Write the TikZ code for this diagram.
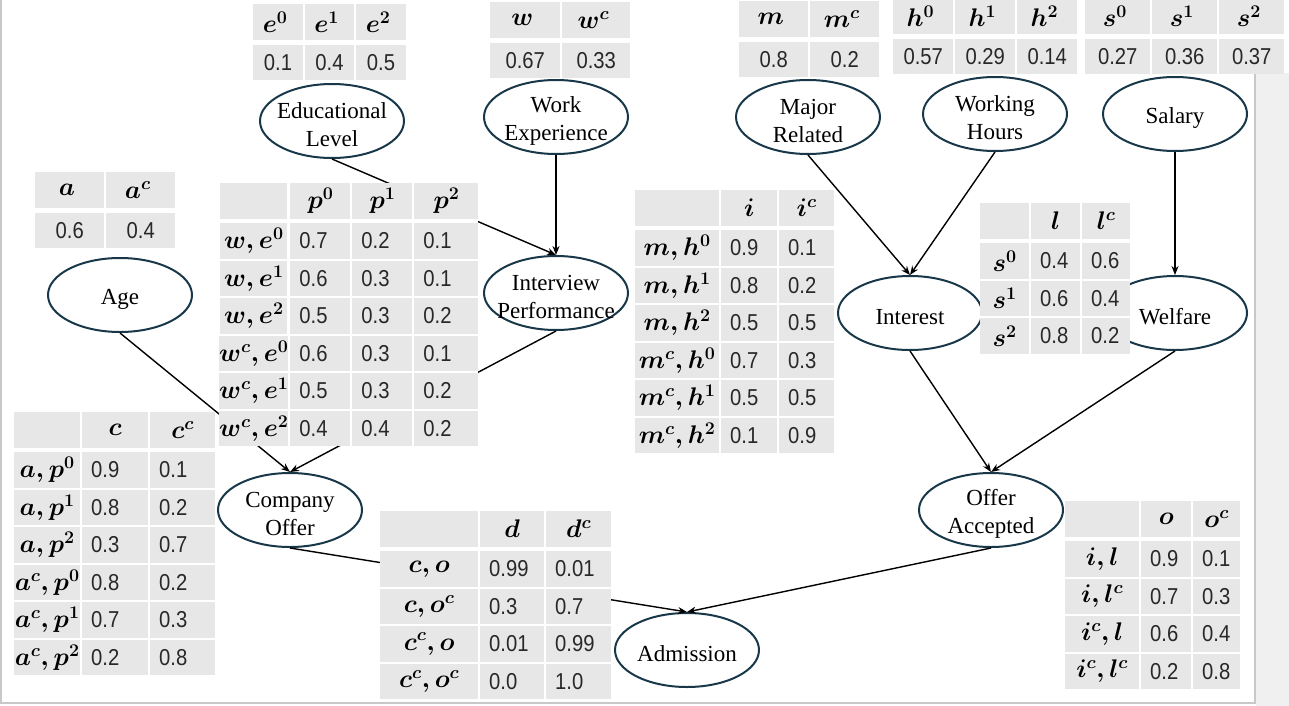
\RequirePackage{fix-cm}
\documentclass[tikz,border=0pt]{standalone}
\usepackage{amsmath}
\usepackage{fontspec}
\setmainfont{Liberation Serif}
\newfontfamily\numfont{Liberation Sans}[FakeStretch=0.88]
\usetikzlibrary{shapes.geometric,positioning,matrix,arrows.meta}

\definecolor{cellgray}{RGB}{231,231,231}
\definecolor{nodeblue}{RGB}{24,56,74}
\definecolor{framegray}{RGB}{200,200,200}
\definecolor{sidegray}{RGB}{240,240,240}
\definecolor{numgray}{RGB}{40,40,40}

\newcommand{\bv}[1]{{\fontsize{25.5}{27}\selectfont$\boldsymbol{#1}$}}

\tikzset{
  var/.style={ellipse, draw=nodeblue, line width=2pt, fill=white,
    minimum width=144pt, minimum height=74pt, inner sep=0pt,
    label={[align=center, yshift=-4pt, font=\fontsize{23}{28}\selectfont]center:#1}},
  cell/.style={fill=cellgray, inner xsep=9pt, inner ysep=0pt, minimum height=35.5pt,
    anchor=center, text=numgray, font=\numfont\fontsize{23}{27}\selectfont},
  cpt/.style={matrix of nodes, nodes in empty cells, nodes={cell}, column sep=2pt,
    row sep=2pt, inner sep=0pt, fill=white, anchor=north west,
    row 1/.style={nodes={align=center, text=black}}},
  vals/.style={nodes={text width=#1, align=left}},
  lbl/.style={nodes={minimum width=#1, inner xsep=0pt, text=black}},
}

\begin{document}
\begin{tikzpicture}[x=1pt, y=-1pt, on grid, >={Stealth[length=9pt, width=7pt]}]
   \useasboundingbox (0,0) rectangle (1289,706);
   \fill[sidegray] (1256,73) rectangle (1289,706);
   \draw[framegray, line width=1.5pt] (1,0) -- (1,703) -- (1255,703) -- (1255,73);

   % variables
   \node[var={Educational\\Level}] (el) at (332,121) {};
   \node[var={Work\\Experience}] (we) at (556,117) {};
   \node[var=Age] (age) at (120,295) {};
   \node[var={Interview\\Performance}] (ip) [below=176pt of we] {};
   \node[var={Major\\Related}] (mr) at (808,117) {};
   \node[var={Working\\Hours}] (wh) at (995,114) {};
   \node[var=Salary] (sal) at (1175,114) {};
   \node[var=Welfare] (wel) [below=199pt of sal] {};
   \node[var=Interest] (int) [left=265pt of wel] {};
   \node[var={Offer\\Accepted}] (oa) at (991,510) {};
   \node[var={Company\\Offer}] (co) [left=701pt of oa] {};
   \node[var=Admission] (adm) at (687,650) {};

   \path[->, line width=1.4pt]
    (el.south) edge (ip.north)
    (we.south) edge (ip.north)
    (age.south) edge (co.north)
    (ip.south) edge (co.north)
    (co.south) edge (adm.north)
    (mr.south) edge (int.north)
    (wh.south) edge (int.north)
    (sal.south) edge (wel.north)
    (int.south) edge (oa.north)
    (wel.south) edge (oa.north)
    (oa.south) edge (adm.north);

   % priors
   \matrix (tabE) [cpt, nodes={minimum width=49.5pt}] at (253,4) {
     \bv{e^0} & \bv{e^1} & \bv{e^2} \\[3pt]
     0.1 & 0.4 & 0.5 \\
   };
   \matrix (tabW) [cpt, column 1/.style={nodes={minimum width=70pt}},
     column 2/.style={nodes={minimum width=68pt}}] at (490,2) {
     \bv{w} & \bv{w^c} \\[3pt]
     0.67 & 0.33 \\
   };
   \matrix (tabM) [cpt, nodes={minimum width=69pt}] at (739,1) {
     \bv{m} & \bv{m^c} \\[3pt]
     0.8 & 0.2 \\
   };
   \matrix (tabH) [cpt, nodes={minimum width=60pt}] at (893,-2) {
     \bv{h^0} & \bv{h^1} & \bv{h^2} \\[3pt]
     0.57 & 0.29 & 0.14 \\
   };
   \matrix (tabS) [cpt, nodes={minimum width=65pt}] at (1085,-2) {
     \bv{s^0} & \bv{s^1} & \bv{s^2} \\[3pt]
     0.27 & 0.36 & 0.37 \\
   };
   \matrix (tabA) [cpt, nodes={minimum width=69pt}] at (35,172) {
     \bv{a} & \bv{a^c} \\[3pt]
     0.6 & 0.4 \\
   };

   % conditional tables
   \matrix (tabP) [cpt, column 1/.style={lbl=67pt}, column 2/.style={vals=42pt},
     column 3/.style={vals=42pt}, column 4/.style={vals=46pt}] at (219,183) {
     & \bv{p^0} & \bv{p^1} & \bv{p^2} \\[2.5pt]
     \bv{w,e^0} & 0.7 & 0.2 & 0.1 \\
     \bv{w,e^1} & 0.6 & 0.3 & 0.1 \\
     \bv{w,e^2} & 0.5 & 0.3 & 0.2 \\
     \bv{w^c,e^0} & 0.6 & 0.3 & 0.1 \\
     \bv{w^c,e^1} & 0.5 & 0.3 & 0.2 \\
     \bv{w^c,e^2} & 0.4 & 0.4 & 0.2 \\
   };
   \matrix (tabC) [cpt, column 1/.style={lbl=66pt}, column 2/.style={vals=48pt},
     column 3/.style={vals=47pt}] at (14,412) {
     & \bv{c} & \bv{c^c} \\[2.5pt]
     \bv{a,p^0} & 0.9 & 0.1 \\
     \bv{a,p^1} & 0.8 & 0.2 \\
     \bv{a,p^2} & 0.3 & 0.7 \\
     \bv{a^c,p^0} & 0.8 & 0.2 \\
     \bv{a^c,p^1} & 0.7 & 0.3 \\
     \bv{a^c,p^2} & 0.2 & 0.8 \\
   };
   \matrix (tabI) [cpt, column 1/.style={lbl=84pt}, column 2/.style={vals=38pt},
     column 3/.style={vals=37pt}] at (635,190) {
     & \bv{i} & \bv{i^c} \\[2.5pt]
     \bv{m,h^0} & 0.9 & 0.1 \\
     \bv{m,h^1} & 0.8 & 0.2 \\
     \bv{m,h^2} & 0.5 & 0.5 \\
     \bv{m^c,h^0} & 0.7 & 0.3 \\
     \bv{m^c,h^1} & 0.5 & 0.5 \\
     \bv{m^c,h^2} & 0.1 & 0.9 \\
   };
   \matrix (tabL) [cpt, column 1/.style={lbl=49pt}, column 2/.style={vals=31pt},
     column 3/.style={vals=30pt}] at (980,203) {
     & \bv{l} & \bv{l^c} \\[2.5pt]
     \bv{s^0} & 0.4 & 0.6 \\
     \bv{s^1} & 0.6 & 0.4 \\
     \bv{s^2} & 0.8 & 0.2 \\
   };
   \matrix (tabD) [cpt, column 1/.style={lbl=98pt}, column 2/.style={vals=46pt},
     column 3/.style={vals=47pt}] at (380,511) {
     & \bv{d} & \bv{d^c} \\[2.5pt]
     \bv{c,o} & 0.99 & 0.01 \\
     \bv{c,o^c} & 0.3 & 0.7 \\
     \bv{c^c,o} & 0.01 & 0.99 \\
     \bv{c^c,o^c} & 0.0 & 1.0 \\
   };
   \matrix (tabO) [cpt, column 1/.style={lbl=74pt}, column 2/.style={vals=32pt},
     column 3/.style={vals=29pt}] at (1065,501) {
     & \bv{o} & \bv{o^c} \\[2.5pt]
     \bv{i,l} & 0.9 & 0.1 \\
     \bv{i,l^c} & 0.7 & 0.3 \\
     \bv{i^c,l} & 0.6 & 0.4 \\
     \bv{i^c,l^c} & 0.2 & 0.8 \\
   };
\end{tikzpicture}
\end{document}
